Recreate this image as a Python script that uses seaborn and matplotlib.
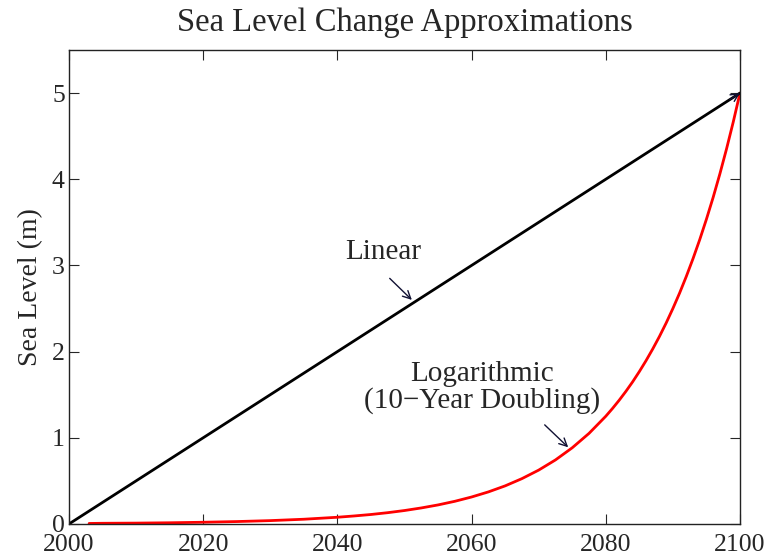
import numpy as np
import pandas as pd
import matplotlib
matplotlib.use('Agg')
import matplotlib.pyplot as plt
import seaborn as sns

# data
linear_years = [2000, 2100]
linear_level = [0.0, 5.0]

log_years = [2003, 2005, 2010, 2015, 2020, 2025, 2030, 2035, 2040, 2042.5,
             2045, 2047.5, 2050, 2052.5, 2055, 2057.5, 2060, 2062.5, 2065,
             2067.5, 2070, 2072.5, 2075, 2077.5, 2080, 2081, 2082, 2083,
             2084, 2085, 2086, 2087, 2088, 2089, 2090, 2091, 2092, 2093,
             2094, 2095, 2096, 2097, 2098, 2099, 2100]
log_level = [0.006, 0.008, 0.01, 0.014, 0.02, 0.028, 0.039, 0.055, 0.078, 0.093,
             0.11, 0.131, 0.156, 0.186, 0.221, 0.263, 0.313, 0.372, 0.442,
             0.526, 0.625, 0.743, 0.884, 1.051, 1.25, 1.34, 1.436, 1.539,
             1.649, 1.768, 1.895, 2.031, 2.176, 2.332, 2.50, 2.679, 2.872, 3.078,
             3.299, 3.536, 3.789, 4.061, 4.353, 4.665, 5.00]

x_ticks = [2000, 2020, 2040, 2060, 2080, 2100]
y_ticks = [0, 1, 2, 3, 4, 5]

sns.set_style('ticks')
plt.rcParams['font.family'] = ['Liberation Serif', 'DejaVu Serif']

df_lin = pd.DataFrame({'year': linear_years, 'level': linear_level})
df_log = pd.DataFrame({'year': log_years, 'level': log_level})

fig = plt.figure(figsize=(7.68, 5.56), dpi=100)
ax = fig.add_axes([0.0898, 0.0576, 0.8737, 0.8525])

sns.lineplot(data=df_log, x='year', y='level', color='#ff0000', lw=2.0, ax=ax)
sns.lineplot(data=df_lin, x='year', y='level', color='black', lw=2.0, ax=ax)

ax.set_xlim(2000, 2100)
ax.set_ylim(0, 5.5)
ax.set_xticks(x_ticks)
ax.set_yticks(y_ticks)
ax.tick_params(direction='in', length=7, width=0.8, labelsize=18.5,
               top=True, right=True, pad=3)
ax.tick_params(axis='x', pad=7)
for s in ax.spines.values():
    s.set_linewidth(1.0)
    s.set_color('#222222')

ax.set_xlabel('')
ax.set_ylabel('Sea Level (m)', fontsize=20, labelpad=6)
ax.set_title('Sea Level Change Approximations', fontsize=23.5, pad=14)

arrow = dict(arrowstyle='->', color='#111133', lw=1.0, shrinkA=0, shrinkB=0,
             mutation_scale=14)

# small arrow tip at end of the linear line
ax.annotate('', xy=(2100, 5.0), xytext=(2098.5, 4.925), arrowprops=arrow)

ax.text(2046.8, 3.16, 'Linear', ha='center', va='center', fontsize=21)
ax.annotate('', xy=(2051.1, 2.60), xytext=(2047.8, 2.85), arrowprops=arrow)

ax.text(2061.5, 1.58, 'Logarithmic\n(10\u2212Year Doubling)', ha='center',
        va='center', fontsize=21, linespacing=1.0)
ax.annotate('', xy=(2074.4, 0.89), xytext=(2070.9, 1.15), arrowprops=arrow)

fig.savefig('out.png', dpi=100)
